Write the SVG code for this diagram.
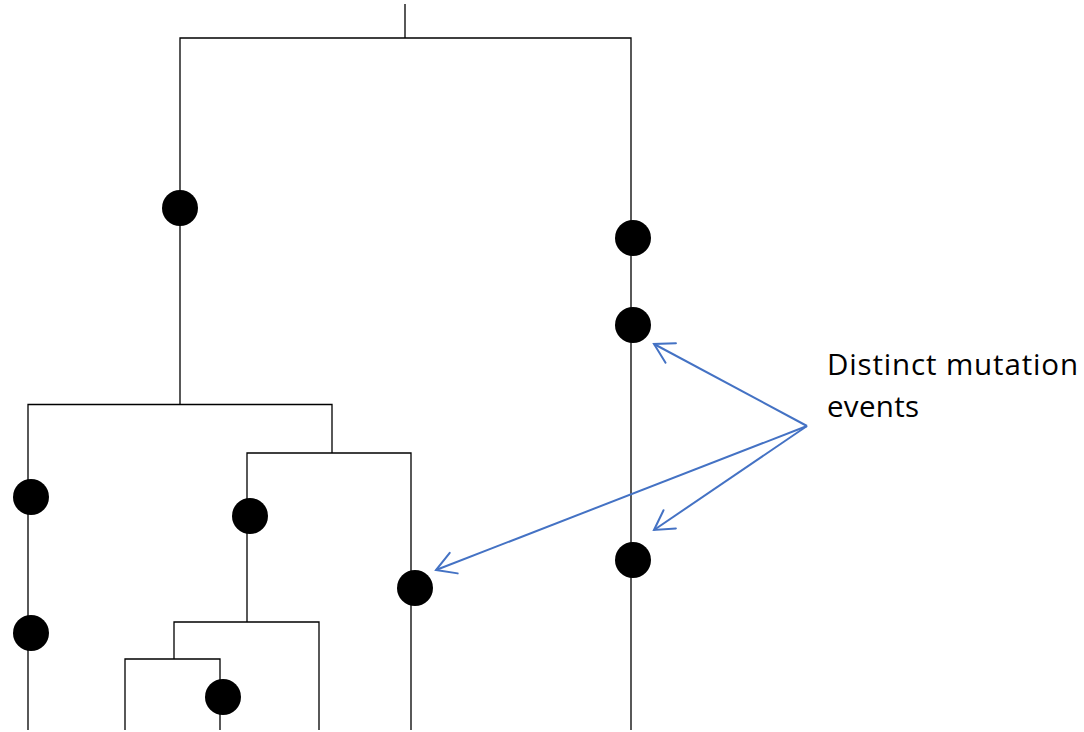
<svg xmlns="http://www.w3.org/2000/svg" width="1084" height="732" viewBox="0 0 1084 732">
  <style>
    .branch { fill: none; stroke: #000; stroke-width: 1.3; }
    .event { fill: #000; }
    .pointer { fill: none; stroke: #4472C4; stroke-width: 2; }
    .label { font-family: "Open Sans", "Liberation Sans", sans-serif; font-size: 29.5px; fill: #000; }
  </style>
  <defs>
    <marker id="openArrow" markerUnits="userSpaceOnUse" markerWidth="30" markerHeight="30" viewBox="-24 -15 28 30" refX="0" refY="0" orient="auto">
      <path d="M -19 -11 L 0 0 L -19 11" fill="none" stroke="#4472C4" stroke-width="2" stroke-linecap="round" stroke-linejoin="miter"/>
    </marker>
  </defs>
  <rect width="1084" height="732" fill="#fff"/>

  <!-- tree branches -->
  <g id="tree">
    <path class="branch" d="M405 4 V38 M180 404 V38 H631 V730"/>
    <path class="branch" d="M28 730 V404.5 H332 V453"/>
    <path class="branch" d="M247 622 V453 H411 V730"/>
    <path class="branch" d="M174 659 V622 H319 V730"/>
    <path class="branch" d="M125 730 V659 H220 V730"/>
  </g>

  <!-- mutation events -->
  <g id="events">
    <circle id="ev1" class="event" cx="180" cy="208" r="18"/>
    <circle id="ev2" class="event" cx="633" cy="238" r="18"/>
    <circle id="ev3" class="event" cx="633" cy="325" r="18"/>
    <circle id="ev4" class="event" cx="633" cy="560" r="18"/>
    <circle id="ev5" class="event" cx="31" cy="497" r="18"/>
    <circle id="ev6" class="event" cx="31" cy="633" r="18"/>
    <circle id="ev7" class="event" cx="250" cy="516" r="18"/>
    <circle id="ev8" class="event" cx="415" cy="588" r="18"/>
    <circle id="ev9" class="event" cx="223" cy="697" r="18"/>
  </g>

  <!-- callout pointers -->
  <g id="connectors">
    <line class="pointer" x1="807" y1="426" x2="654" y2="344" marker-end="url(#openArrow)"/>
    <line class="pointer" x1="807" y1="426" x2="654" y2="530" marker-end="url(#openArrow)"/>
    <line class="pointer" x1="807" y1="426" x2="436" y2="570" marker-end="url(#openArrow)"/>
  </g>

  <g id="callout">
    <text class="label" x="827" y="375" textLength="251" lengthAdjust="spacing">Distinct mutation</text>
    <text class="label" x="827" y="417" textLength="92" lengthAdjust="spacing">events</text>
  </g>
</svg>
